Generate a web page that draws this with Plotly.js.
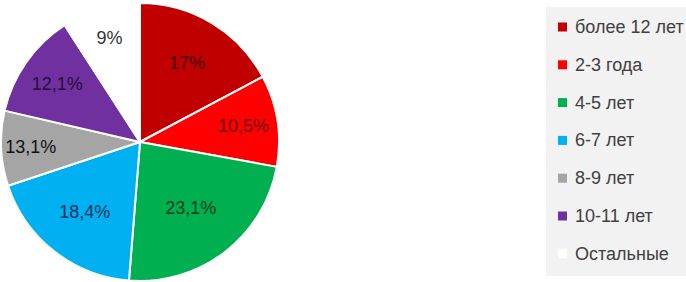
<!DOCTYPE html>
<html>
<head>
<meta charset="utf-8">
<script src="https://cdn.plot.ly/plotly-3.0.1.min.js"></script>
<style>html,body{margin:0;padding:0;background:#fff;}#chart{width:686px;height:282px;}</style>
</head>
<body>
<div id="chart"></div>
<script>
// Data
var categories = ["более 12 лет", "2-3 года", "4-5 лет", "6-7 лет", "8-9 лет", "10-11 лет", "Остальные"];
var values = [17, 10.5, 23.1, 18.4, 8.6, 12.1, 9];
var valueLabels = ["17%", "10,5%", "23,1%", "18,4%", "13,1%", "12,1%", "9%"];
var colors = ["#C00000", "#FF0000", "#00B050", "#00B0F0", "#A5A5A5", "#7030A0", "#FFFFFF"];
var textColors = ["#4a0000", "#6a0000", "#003d1a", "#0a3360", "#111111", "#24103a", "#333333"];

var W = 686, H = 282;
var FONT = "Liberation Sans, Arial, sans-serif";

var trace = {
  type: "pie",
  labels: categories,
  values: values,
  text: valueLabels,
  textinfo: "text",
  textposition: "inside",
  insidetextorientation: "horizontal",
  sort: false,
  direction: "clockwise",
  rotation: 0,
  marker: {colors: colors, line: {color: "#FFFFFF", width: 2}},
  insidetextfont: {family: FONT, size: 18, color: textColors},
  domain: {x: [1 / W, 279 / W], y: [1 / H, 279 / H]},
  hoverinfo: "none",
  showlegend: false
};

// Custom legend built from the category/colour arrays
var shapes = [{
  type: "rect", xref: "paper", yref: "paper",
  x0: 546 / W, x1: 1, y0: 1 - 276 / H, y1: 1 - 7 / H,
  fillcolor: "#F2F2F2", line: {width: 0}, layer: "below"
}];
var annotations = [];
var top0 = 27, step = 37.8;
categories.forEach(function (c, i) {
  var yc = top0 + i * step;
  shapes.push({
    type: "rect", xref: "paper", yref: "paper",
    x0: 558 / W, x1: 567 / W, y0: 1 - (yc + 4.5) / H, y1: 1 - (yc - 4.5) / H,
    fillcolor: colors[i], line: {width: 0}
  });
  annotations.push({
    xref: "paper", yref: "paper", x: 573 / W, y: 1 - yc / H,
    xanchor: "left", yanchor: "middle", showarrow: false,
    text: c, font: {family: FONT, size: 18, color: "#404040"}
  });
});

var layout = {
  width: W, height: H,
  margin: {l: 0, r: 0, t: 0, b: 0},
  paper_bgcolor: "#FFFFFF",
  showlegend: false,
  shapes: shapes,
  annotations: annotations
};

Plotly.newPlot("chart", [trace], layout, {displayModeBar: false, staticPlot: true});
</script>
</body>
</html>
